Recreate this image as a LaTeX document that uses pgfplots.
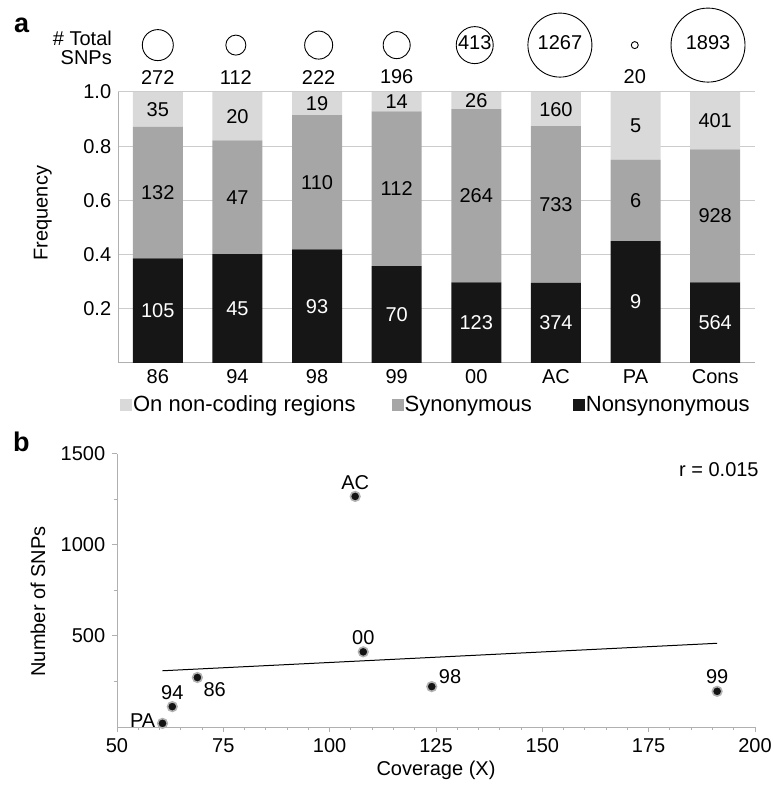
\documentclass[border=0pt]{standalone}
\usepackage{pgfplots}
\pgfplotsset{compat=1.18}
\usepackage{pgfplotstable}
\usepackage{fontspec}
\setmainfont{Liberation Sans}
\definecolor{nc}{HTML}{D9D9D9}
\definecolor{syn}{HTML}{A6A6A6}
\definecolor{non}{HTML}{161616}
\definecolor{axgray}{HTML}{B0B0B0}
\definecolor{gridgray}{HTML}{CCCCCC}
\newcommand\fs{\fontsize{20bp}{24bp}\selectfont}
\newcommand\fl{\fontsize{22bp}{26bp}\selectfont}

% fractions of SNP classes per strain (counts / total)
\pgfplotstableread{
x n s c
0 0.3860 0.4853 0.1287
1 0.4018 0.4196 0.1786
2 0.4189 0.4955 0.0856
3 0.3571 0.5714 0.0715
4 0.2978 0.6392 0.0630
5 0.2952 0.5785 0.1263
6 0.4500 0.3000 0.2500
7 0.2979 0.4902 0.2119
}\fractable

% label positions (segment middles) and counts
\pgfplotstableread{
x yn ys yc ln ls lc
0 0.1930 0.6286 0.9357 105 132 35
1 0.2009 0.6116 0.9107 45 47 20
2 0.2095 0.6667 0.9572 93 110 19
3 0.1786 0.6429 0.9643 70 112 14
4 0.1489 0.6174 0.9685 123 264 26
5 0.1476 0.5845 0.9368 374 733 160
6 0.2250 0.6000 0.8750 9 6 5
7 0.1490 0.5430 0.8940 564 928 401
}\labeltable

% total SNP bubbles
\pgfplotstableread{
x y r ly lab
0.00 1.173 15.5 1.055 272
0.98 1.173 10 1.055 112
2.02 1.173 14 1.055 222
3.00 1.173 13.5 1.055 196
3.98 1.173 18.5 1.181 413
5.05 1.173 32 1.181 1267
5.99 1.173 3.5 1.055 20
6.91 1.173 37 1.181 1893
}\circtable

% coverage vs number of SNPs
\pgfplotstableread{
x y
60.7 20
63.0 112
68.9 272
107.9 413
106.0 1267
124.0 222
191.1 196
}\snptable

\begin{document}
\fs
\begin{tikzpicture}
\path[use as bounding box] (0bp,0bp) rectangle (774bp,786bp);

% ---------- panel a: stacked bars ----------
\begin{axis}[
  at={(118bp,423bp)}, anchor=south west,
  scale only axis, width=637bp, height=271bp,
  ybar stacked, bar width=50bp,
  xmin=-0.5, xmax=7.5, ymin=0, ymax=1,
  xtick={0,...,7}, xticklabels={86,94,98,99,00,AC,PA,Cons},
  ytick={0.2,0.4,0.6,0.8,1.0},
  yticklabel style={/pgf/number format/.cd, fixed, fixed zerofill, precision=1},
  /pgf/number format/assume math mode=true,
  tick label style={font=\fs},
  axis lines*=left,
  axis line style={axgray, line width=1bp},
  ymajorgrids, grid style={gridgray, line width=1bp},
  major tick length=0pt,
  ylabel={Frequency},
  ylabel style={at={(axis description cs:-0.118,0.553)}, anchor=center, font=\fs},
  legend style={at={(axis description cs:0.003,-0.155)}, anchor=west,
    legend columns=-1, draw=none, fill=none, inner sep=0pt, font=\fl,
    nodes={inner xsep=1bp, inner ysep=2bp}},
  legend image code/.code={\fill[#1] (0bp,-6bp) rectangle (12bp,6bp);},
  reverse legend,
]
\addplot[fill=non, draw=none] table[x=x, y=n] \fractable;
\addlegendentry{Nonsynonymous}
\addplot[fill=syn, draw=none] table[x=x, y=s] \fractable;
\addlegendentry{Synonymous\hspace*{40bp}}
\addplot[fill=nc, draw=none] table[x=x, y=c] \fractable;
\addlegendentry{On non-coding regions\hspace*{35bp}}
\end{axis}

% ---------- panel a: overlay for labels and bubbles ----------
\begin{axis}[
  at={(118bp,423bp)}, anchor=south west,
  scale only axis, width=637bp, height=271bp,
  xmin=-0.5, xmax=7.5, ymin=0, ymax=1,
  hide axis, clip=false,
]
\addplot[only marks, mark=none, nodes near coords, point meta=explicit symbolic,
  every node near coord/.append style={anchor=center, text=white, font=\fs}]
  table[x=x, y=yn, meta=ln] \labeltable;
\addplot[only marks, mark=none, nodes near coords, point meta=explicit symbolic,
  every node near coord/.append style={anchor=center, text=black, font=\fs}]
  table[x=x, y=ys, meta=ls] \labeltable;
\addplot[only marks, mark=none, nodes near coords, point meta=explicit symbolic,
  every node near coord/.append style={anchor=center, text=black, font=\fs}]
  table[x=x, y=yc, meta=lc] \labeltable;
% bubbles
\addplot[scatter, only marks, mark=o, point meta=explicit,
  scatter/use mapped color={draw=black, fill=none},
  mark options={line width=0.9bp},
  visualization depends on={\thisrow{r} \as \rr},
  scatter/@pre marker code/.append style={/tikz/mark size=\rr bp}]
  table[x=x, y=y, meta=r] \circtable;
\addplot[only marks, mark=none, nodes near coords, point meta=explicit symbolic,
  every node near coord/.append style={anchor=center, text=black, font=\fs}]
  table[x=x, y=ly, meta=lab] \circtable;
\node[anchor=north east, align=right, inner sep=0pt,
  font=\fontsize{20bp}{18.5bp}\selectfont] at (axis cs:-0.575,1.224) {\# Total\\SNPs};
\end{axis}

\node[anchor=base west, inner sep=0pt, font=\fontsize{27bp}{30bp}\selectfont\bfseries] at (14bp,753bp) {a};
\node[anchor=base west, inner sep=0pt, font=\fontsize{27bp}{30bp}\selectfont\bfseries] at (13bp,334bp) {b};

% ---------- panel b: scatter ----------
\begin{axis}[
  at={(117bp,59bp)}, anchor=south west,
  scale only axis, width=638bp, height=273bp,
  xmin=50, xmax=200, ymin=0, ymax=1500,
  xtick={50,75,...,200}, minor x tick num=4,
  ytick={500,1000,1500}, minor ytick={250,750,1250},
  /pgf/number format/assume math mode=true,
  /pgf/number format/1000 sep={},
  tick label style={font=\fs},
  axis lines*=left,
  axis line style={axgray, line width=1bp},
  tick style={axgray, line width=1bp},
  tick align=outside, major tick length=5bp, minor tick length=3bp,
  xlabel={Coverage (X)}, ylabel={Number of SNPs},
  xlabel style={at={(axis description cs:0.5,-0.158)}, anchor=center, font=\fs},
  ylabel style={at={(axis description cs:-0.124,0.46)}, anchor=center, font=\fs},
  clip=false,
  lab/.style={only marks, mark=none, nodes near coords, point meta=explicit symbolic,
    every node near coord/.append style={inner sep=1bp, font=\fs, text=black, #1}},
]
\addplot[black, line width=1bp] coordinates {(60.7,309) (191.1,460)};
\addplot[only marks, mark=*, mark size=4.8bp,
  mark options={fill=black!92, draw=black!30, line width=1.6bp}]
  table[x=x, y=y] \snptable;
\addplot[lab={anchor=east, xshift=-6bp, yshift=3bp}] coordinates {(60.7,20) [PA]};
\addplot[lab={anchor=south, yshift=6bp}] coordinates {(63.0,112) [94] (107.9,413) [00] (106.0,1267) [AC] (191.1,196) [99]};
\addplot[lab={anchor=north west, xshift=5bp, yshift=-4bp}] coordinates {(68.9,272) [86]};
\addplot[lab={anchor=south west, xshift=6bp, yshift=2bp}] coordinates {(124.0,222) [98]};
\node[anchor=east, inner sep=0pt, font=\fs] at (rel axis cs:1.006,0.941) {r = 0.015};
\end{axis}
\end{tikzpicture}
\end{document}
